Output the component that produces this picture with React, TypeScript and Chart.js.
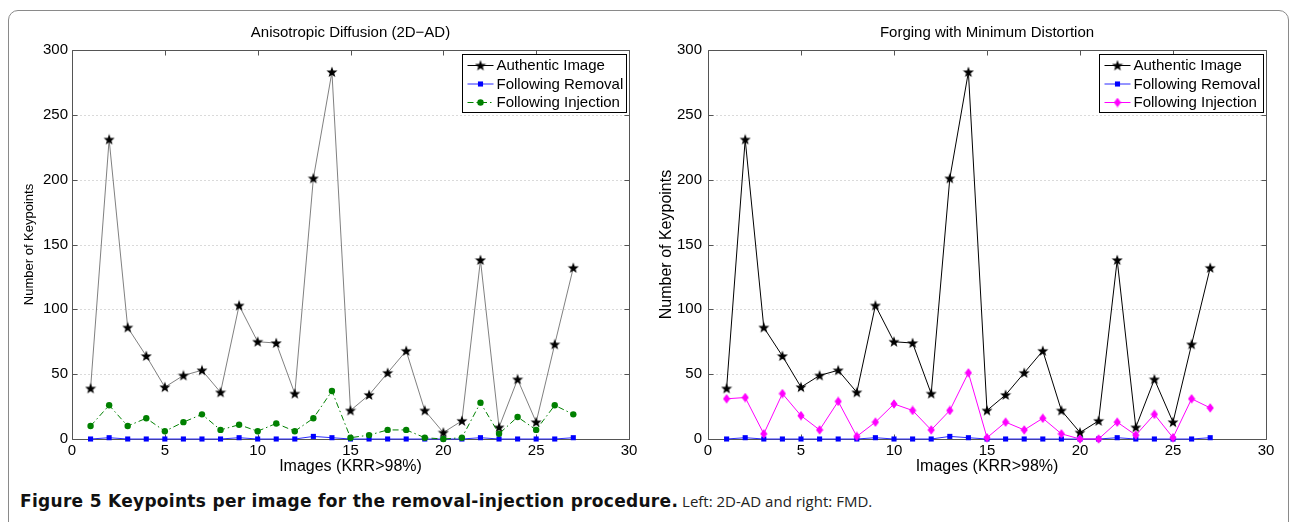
import React, { useEffect, useRef } from "react";
import { Chart, registerables } from "chart.js";
Chart.register(...registerables);

const images = [1, 2, 3, 4, 5, 6, 7, 8, 9, 10, 11, 12, 13, 14, 15, 16, 17, 18, 19, 20, 21, 22, 23, 24, 25, 26, 27];
const authentic = [39, 231, 86, 64, 40, 49, 53, 36, 103, 75, 74, 35, 201, 283, 22, 34, 51, 68, 22, 5, 14, 138, 9, 46, 13, 73, 132];
const removalAD = [0, 1, 0, 0, 0, 0, 0, 0, 1, 0, 0, 0, 2, 1, 0, 0, 0, 0, 0, 0, 0, 1, 0, 0, 0, 0, 1];
const injectionAD = [10, 26, 10, 16, 6, 13, 19, 7, 11, 6, 12, 6, 16, 37, 1, 3, 7, 7, 1, 0, 1, 28, 4, 17, 7, 26, 19];
const removalFMD = [0, 1, 0, 0, 0, 0, 0, 0, 1, 0, 0, 0, 2, 1, 0, 0, 0, 0, 0, 0, 0, 1, 0, 0, 0, 0, 1];
const injectionFMD = [31, 32, 4, 35, 18, 7, 29, 2, 13, 27, 22, 7, 22, 51, 1, 13, 7, 16, 4, 0, 0, 13, 3, 19, 1, 31, 24];
const seriesNames = ["Authentic Image", "Following Removal", "Following Injection"];
const titles = ["Anisotropic Diffusion (2D\u2212AD)", "Forging with Minimum Distortion"];
const xLabel = "Images (KRR>98%)";
const yLabel = "Number of Keypoints";
const xTicks = [0, 5, 10, 15, 20, 25, 30];
const yTicks = [0, 50, 100, 150, 200, 250, 300];

const FONT = "'Liberation Sans', Arial, Helvetica, sans-serif";

function makeStar(): HTMLCanvasElement {
  const c = document.createElement("canvas");
  c.width = 12;
  c.height = 12;
  const g = c.getContext("2d")!;
  g.beginPath();
  for (let i = 0; i < 10; i++) {
    const r = i % 2 === 0 ? 5.8 : 2.4;
    const a = -Math.PI / 2 + (i * Math.PI) / 5;
    const px = 6 + r * Math.cos(a);
    const py = 6.4 + r * Math.sin(a);
    if (i === 0) g.moveTo(px, py);
    else g.lineTo(px, py);
  }
  g.closePath();
  g.fillStyle = "#000";
  g.fill();
  return c;
}

function makeDiamond(): HTMLCanvasElement {
  const c = document.createElement("canvas");
  c.width = 8;
  c.height = 10;
  const g = c.getContext("2d")!;
  g.beginPath();
  g.moveTo(4, 0.3);
  g.lineTo(7.6, 5);
  g.lineTo(4, 9.7);
  g.lineTo(0.4, 5);
  g.closePath();
  g.fillStyle = "#ff00ff";
  g.fill();
  return c;
}

function pts(vals: number[]) {
  return images.map((x, i) => ({ x, y: vals[i] }));
}

type PanelOpts = {
  title: string;
  removal: number[];
  injection: number[];
  authColor: string;
  authWidth: number;
  injColor: string;
  injDash: number[];
  injStyle: any;
  injRadius: number;
  yLabelSize: number;
  yLabelPad: number;
  yTickPad: number;
  rightPad: number;
  star: HTMLCanvasElement;
};

function boxPlugin() {
  return {
    id: "matlabBox",
    beforeDatasetsDraw(chart: any) {
      const { ctx, chartArea: a, scales } = chart;
      const L = Math.round(a.left) + 0.5;
      const R = Math.round(a.right) + 0.5;
      const T = Math.round(a.top) + 0.5;
      const B = Math.round(a.bottom) + 0.5;
      ctx.save();
      // dotted horizontal grid
      ctx.strokeStyle = "#b4b4b4";
      ctx.lineWidth = 1;
      ctx.setLineDash([1, 3]);
      ctx.beginPath();
      yTicks.forEach((v) => {
        if (v === yTicks[0] || v === yTicks[yTicks.length - 1]) return;
        const py = Math.round(scales.y.getPixelForValue(v)) + 0.5;
        ctx.moveTo(L, py);
        ctx.lineTo(R, py);
      });
      ctx.stroke();
      ctx.setLineDash([]);
      // box + inward ticks
      ctx.strokeStyle = "#555";
      ctx.beginPath();
      ctx.rect(L, T, R - L, B - T);
      const tl = 5;
      xTicks.forEach((v) => {
        const px = Math.round(scales.x.getPixelForValue(v)) + 0.5;
        ctx.moveTo(px, B);
        ctx.lineTo(px, B - tl);
        ctx.moveTo(px, T);
        ctx.lineTo(px, T + tl);
      });
      yTicks.forEach((v) => {
        const py = Math.round(scales.y.getPixelForValue(v)) + 0.5;
        ctx.moveTo(L, py);
        ctx.lineTo(L + tl, py);
        ctx.moveTo(R, py);
        ctx.lineTo(R - tl, py);
      });
      ctx.stroke();
      ctx.restore();
    },
  };
}

function legendPlugin() {
  return {
    id: "matlabLegend",
    afterDatasetsDraw(chart: any) {
      const { ctx, chartArea: a } = chart;
      const w = 164;
      const h = 58;
      const left = Math.round(a.right - 3 - w) + 0.5;
      const top = Math.round(a.top + 4) + 0.5;
      ctx.save();
      ctx.fillStyle = "#fff";
      ctx.fillRect(left, top, w, h);
      ctx.strokeStyle = "#000";
      ctx.lineWidth = 1;
      ctx.strokeRect(left, top, w, h);
      chart.data.datasets.forEach((ds: any, i: number) => {
        const y = top + 11 + i * 18.5;
        ctx.beginPath();
        ctx.setLineDash(ds.borderDash || []);
        ctx.strokeStyle = ds.legendLineColor || ds.borderColor;
        ctx.lineWidth = 1;
        ctx.moveTo(left + 5, y);
        ctx.lineTo(left + 31, y);
        ctx.stroke();
        ctx.setLineDash([]);
        const ps = ds.pointStyle;
        const mx = left + 18;
        if (ps instanceof HTMLCanvasElement) {
          ctx.drawImage(ps, mx - ps.width / 2, y - ps.height / 2);
        } else if (ps === "rect") {
          const s = ds.pointRadius / Math.SQRT2;
          ctx.fillStyle = ds.pointBackgroundColor;
          ctx.fillRect(mx - s, y - s, 2 * s, 2 * s);
        } else {
          ctx.beginPath();
          ctx.fillStyle = ds.pointBackgroundColor;
          ctx.arc(mx, y, ds.pointRadius, 0, Math.PI * 2);
          ctx.fill();
        }
        ctx.fillStyle = "#000";
        ctx.font = `15px ${FONT}`;
        ctx.textBaseline = "middle";
        ctx.textAlign = "left";
        ctx.fillText(ds.label, left + 34, y + 0.5);
      });
      ctx.restore();
    },
  };
}

function makeConfig(o: PanelOpts): any {
  return {
    type: "line",
    data: {
      datasets: [
        {
          label: seriesNames[0],
          data: pts(authentic),
          borderColor: o.authColor,
          legendLineColor: "#000",
          borderWidth: o.authWidth,
          pointStyle: o.star,
          pointRadius: 6,
          pointBackgroundColor: "#000",
          pointBorderColor: "#000",
          order: 3,
          clip: false,
        },
        {
          label: seriesNames[1],
          data: pts(o.removal),
          borderColor: "#2a2aff",
          borderWidth: 1,
          pointStyle: "rect",
          pointRadius: 3.6,
          pointBackgroundColor: "#0000ff",
          pointBorderColor: "#0000ff",
          pointBorderWidth: 0,
          order: 2,
          clip: false,
        },
        {
          label: seriesNames[2],
          data: pts(o.injection),
          borderColor: o.injColor,
          borderWidth: 1,
          borderDash: o.injDash,
          pointStyle: o.injStyle,
          pointRadius: o.injRadius,
          pointBackgroundColor: o.injColor,
          pointBorderColor: o.injColor,
          pointBorderWidth: 0,
          order: 1,
          clip: false,
        },
      ],
    },
    options: {
      animation: false,
      responsive: false,
      maintainAspectRatio: false,
      layout: { padding: { left: 0, right: o.rightPad, top: 0, bottom: 0 } },
      plugins: {
        legend: { display: false },
        tooltip: { enabled: false },
        title: {
          display: true,
          fullSize: false,
          text: o.title,
          color: "#000",
          font: { family: FONT, size: 15, weight: "normal" },
          padding: { top: 24, bottom: 8 },
        },
      },
      scales: {
        x: {
          type: "linear",
          min: 0,
          max: 30,
          afterBuildTicks: (s: any) => {
            s.ticks = xTicks.map((v) => ({ value: v }));
          },
          afterFit: (s: any) => {
            s.height = 41;
          },
          ticks: { color: "#000", font: { family: FONT, size: 15 }, padding: 3, maxRotation: 0 },
          grid: { display: false, drawTicks: false },
          border: { display: false },
          title: {
            display: true,
            text: xLabel,
            color: "#000",
            font: { family: FONT, size: 16 },
            padding: { top: 0, bottom: 4 },
          },
        },
        y: {
          type: "linear",
          min: 0,
          max: 300,
          afterBuildTicks: (s: any) => {
            s.ticks = yTicks.map((v) => ({ value: v }));
          },
          afterFit: (s: any) => {
            s.width = 72;
          },
          ticks: { color: "#000", font: { family: FONT, size: 15 }, padding: o.yTickPad },
          grid: { display: false, drawTicks: false },
          border: { display: false },
          title: {
            display: true,
            text: yLabel,
            color: "#000",
            font: { family: FONT, size: o.yLabelSize },
            padding: { top: o.yLabelPad, bottom: 0 },
          },
        },
      },
    },
    plugins: [boxPlugin(), legendPlugin()],
  };
}

export default function App() {
  const leftRef = useRef<HTMLCanvasElement>(null);
  const rightRef = useRef<HTMLCanvasElement>(null);

  useEffect(() => {
    const star = makeStar();
    const diamond = makeDiamond();
    const c1 = new Chart(
      leftRef.current!,
      makeConfig({
        title: titles[0],
        removal: removalAD,
        injection: injectionAD,
        authColor: "#606060",
        authWidth: 0.8,
        injColor: "#008000",
        injDash: [6, 3, 1.5, 3],
        injStyle: "circle",
        injRadius: 3.2,
        yLabelSize: 13,
        yLabelPad: 22,
        yTickPad: 4,
        rightPad: 16,
        star,
      })
    );
    const c2 = new Chart(
      rightRef.current!,
      makeConfig({
        title: titles[1],
        removal: removalFMD,
        injection: injectionFMD,
        authColor: "#000",
        authWidth: 1,
        injColor: "#ff00ff",
        injDash: [],
        injStyle: diamond,
        injRadius: 4,
        yLabelSize: 16,
        yLabelPad: 21,
        yTickPad: 6,
        rightPad: 25,
        star,
      })
    );
    return () => {
      c1.destroy();
      c2.destroy();
    };
  }, []);

  return (
    <div
      style={{
        position: "fixed",
        left: 0,
        top: 0,
        width: 1291,
        height: 522,
        overflow: "hidden",
        background: "#fff",
      }}
    >
      <div
        style={{
          position: "absolute",
          left: 8,
          top: 10,
          width: 1281,
          height: 600,
          border: "1.5px solid #8a8a8a",
          borderRadius: "10px 10px 0 0",
          boxSizing: "border-box",
        }}
      />
      <canvas
        ref={leftRef}
        width={645}
        height={480}
        style={{ position: "absolute", left: 0, top: 0, width: 645, height: 480 }}
      />
      <canvas
        ref={rightRef}
        width={655}
        height={480}
        style={{ position: "absolute", left: 636, top: 0, width: 655, height: 480 }}
      />
      <div
        style={{
          position: "absolute",
          left: 20,
          top: 490,
          whiteSpace: "nowrap",
          color: "#111",
          lineHeight: "22px",
        }}
      >
        <span
          style={{
            fontWeight: 700,
            fontFamily: "'DejaVu Sans', sans-serif",
            fontSize: 17,
            letterSpacing: 0.3,
          }}
        >
          Figure 5 Keypoints per image for the removal-injection procedure.
        </span>
        <span style={{ fontWeight: 400, fontFamily: "'Open Sans', sans-serif", fontSize: 15, color: "#222" }}>
          {" "}Left: 2D-AD and right: FMD.
        </span>
      </div>
    </div>
  );
}
